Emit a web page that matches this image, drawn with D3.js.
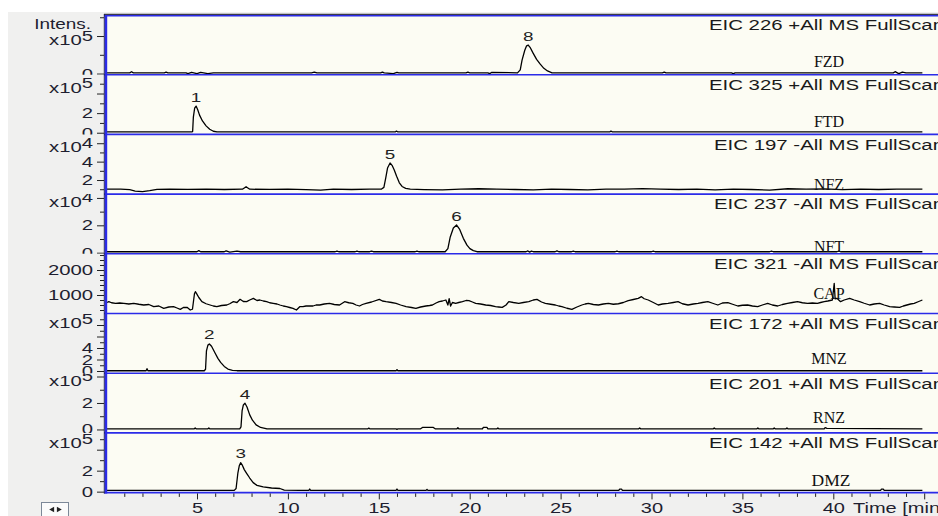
<!DOCTYPE html>
<html>
<head>
<meta charset="utf-8">
<script src="https://cdn.jsdelivr.net/npm/d3@7"></script>
<style>
  html, body { margin: 0; padding: 0; background: #ffffff; }
  svg { display: block; }
</style>
</head>
<body>
<svg id="chart" width="938" height="516"></svg>
<script>
// ---------------- data ----------------
const titles = [
  "EIC 226 +All MS FullScan", "EIC 325 +All MS FullScan", "EIC 197 -All MS FullScan",
  "EIC 237 -All MS FullScan", "EIC 321 -All MS FullScan", "EIC 172 +All MS FullScan",
  "EIC 201 +All MS FullScan", "EIC 142 +All MS FullScan"
];
const compounds = ["FZD", "FTD", "NFZ", "NFT", "CAP", "MNZ", "RNZ", "DMZ"];
const peakIds = ["8", "1", "5", "6", "", "2", "4", "3"];
const exponents = ["5", "5", "4", "4", null, "5", "5", "5"];

// intensity range shown in each trace (in units of 10^exponent, CAP in counts)
const yDomains = [[-0.03, 1.56], [-0.17, 5.92], [0.47, 6.96], [-0.08, 4.28],
                  [260, 2648], [-0.38, 10.0], [-0.26, 4.25], [-0.09, 5.6]];
const majorTicks = [[0, 1], [0, 2, 4], [0, 2, 4, 6], [0, 2, 4], [1000, 2000],
                    [0, 2, 4, 6, 8], [0, 2, 4], [0, 2, 4]];
const minorTicks = [[0.5, 1.5], [1, 3, 5], [1, 3, 5], [1, 3],
                    [400, 600, 800, 1200, 1400, 1600, 1800, 2200, 2400, 2600],
                    [1, 3, 5, 7, 9], [1, 3], [1, 3, 5]];
const tickLabels = [[0], [0, 2], [2, 4], [0, 2], [1000, 2000], [0, 2, 4], [0, 2], [0, 2]];
const exponentAt = [1, 5, 6, 4, null, 9, 4, 5];

const timeMajor = [5, 10, 15, 20, 25, 30, 35, 40, 45];
const timeLabels = [5, 10, 15, 20, 25, 30, 35, 40];
const timeMinor = d3.range(1, 46).filter(t => t % 5 !== 0);

// extracted ion chromatograms: [time (min), intensity]
const fzd = [[0,0.02],[1.3,0.02],[1.4,0.05],[1.5,0.02],[3.2,0.02],[3.3,0.04],[3.4,0.02],[4.4,0.02],
  [4.5,0.0],[4.7,0.03],[5.0,0.0],[5.2,0.03],[5.6,0.0],[5.9,0.02],[11.3,0.02],[11.45,0.04],[11.6,0.02],
  [15.1,0.02],[15.2,0.04],[15.3,0.02],[15.8,0.0],[16.0,0.03],[16.1,0.02],[19.8,0.02],[19.9,0.04],
  [20.0,0.02],[21.0,0.02],[21.1,0.0],[21.2,0.03],[22.63,0.02],[22.78,0.1],[22.88,0.36],[23.03,0.62],
  [23.13,0.74],[23.22,0.76],[23.32,0.7],[23.48,0.55],[23.68,0.38],[23.88,0.25],[24.08,0.14],
  [24.28,0.07],[24.53,0.02],[30.6,0.02],[30.7,0.04],[30.8,0.02],[34.4,0.02],[34.5,0.0],[34.6,0.02],
  [43.3,0.02],[43.4,0.05],[43.6,0.0],[43.8,0.04],[44.0,0.02],[44.9,0.02]];

const ftd = [[0,0.08],[4.7,0.08],[4.76,0.12],[4.8,1.6],[4.87,2.5],[4.95,2.72],[5.04,2.35],[5.14,1.8],
  [5.3,1.2],[5.5,0.7],[5.7,0.35],[5.9,0.15],[6.1,0.08],[15.9,0.08],[15.97,0.17],[16.05,0.08],
  [27.7,0.08],[27.77,0.17],[27.85,0.08],[44.9,0.08]];

const nfz = [[0,1.02],[0.8,1.0],[1.3,0.95],[1.6,0.8],[2.0,0.75],[2.4,0.85],[2.8,0.98],[3.5,1.0],
  [4.5,0.98],[5.5,1.02],[6.5,0.97],[7.5,1.0],[7.7,1.27],[7.9,1.0],[9,0.98],[10,1.02],[11,0.95],
  [11.8,0.9],[12.5,1.0],[13.5,0.97],[14.5,1.02],[15.13,1.0],[15.28,1.2],[15.38,2.2],[15.48,3.3],
  [15.62,3.85],[15.73,3.6],[15.85,3.1],[15.98,2.4],[16.13,1.7],[16.28,1.3],[16.48,1.1],[16.73,1.0],
  [17.5,0.95],[18.5,0.92],[19.5,1.0],[20.5,1.05],[21.5,1.0],[22.5,0.97],[23.5,0.94],[24.5,1.0],
  [25.5,0.97],[26.5,0.94],[27.5,1.0],[28.5,1.02],[29.5,1.06],[30.5,1.0],[31.5,0.97],[32.5,1.02],
  [33.5,0.94],[34.5,1.0],[35.5,0.97],[36.5,0.9],[37.5,1.05],[38.5,1.0],[39.5,1.03],[40.5,0.95],
  [41.5,1.0],[42.5,0.97],[43.5,1.02],[44.9,1.0]];

const nft = [[0,0.07],[5.0,0.07],[5.1,0.15],[5.2,0.07],[6.5,0.07],[6.6,0.13],[6.8,0.04],[7.2,0.12],
  [7.4,0.07],[12.6,0.07],[12.7,0.12],[12.8,0.07],[13.7,0.07],[13.8,0.12],[13.9,0.07],[14.5,0.07],
  [14.6,0.11],[14.7,0.07],[17.0,0.07],[17.1,0.12],[17.2,0.07],[18.65,0.07],[18.8,0.3],[18.93,1.15],
  [19.1,1.8],[19.28,2.02],[19.45,1.7],[19.65,1.05],[19.85,0.55],[20.01,0.3],[20.2,0.15],[20.4,0.07],
  [23.1,0.07],[23.2,0.13],[23.3,0.04],[23.4,0.12],[23.5,0.07],[24.7,0.07],[24.8,0.13],[24.9,0.07],
  [25.6,0.07],[25.7,0.12],[25.8,0.07],[28.0,0.07],[28.1,0.12],[28.2,0.07],[30.0,0.07],[30.1,0.12],
  [30.2,0.07],[36.5,0.07],[36.6,0.12],[36.7,0.07],[40.2,0.07],[40.3,0.12],[40.4,0.07],[44.9,0.07]];

const cap = [[0.05,700],[0.15,733],[0.3,690],[0.52,667],[0.75,680],[0.98,667],[1.25,640],[1.52,667],
  [1.8,630],[2.07,600],[2.35,620],[2.62,533],[2.9,560],[3.17,467],[3.45,520],[3.71,533],[3.9,480],
  [4.08,427],[4.25,500],[4.45,507],[4.63,400],[4.75,430],[4.86,1050],[4.91,1133],[4.97,1067],
  [5.1,900],[5.27,733],[5.5,650],[5.72,600],[5.9,560],[6.09,533],[6.35,580],[6.64,600],[6.8,650],
  [7.0,733],[7.2,700],[7.37,827],[7.55,740],[7.73,733],[7.9,800],[8.1,867],[8.3,780],[8.46,800],
  [8.65,760],[8.83,733],[9.0,690],[9.19,667],[9.4,640],[9.56,600],[9.75,560],[9.92,533],[10.1,500],
  [10.28,467],[10.47,400],[10.65,533],[10.83,533],[11.0,560],[11.2,560],[11.38,560],[11.55,600],
  [11.75,600],[12.0,640],[12.29,667],[12.55,620],[12.84,600],[13.12,733],[13.35,690],[13.57,667],
  [13.75,600],[13.94,560],[14.1,620],[14.3,667],[14.6,720],[15.03,827],[15.2,760],[15.4,733],
  [15.7,700],[15.95,667],[16.2,600],[16.5,533],[16.8,500],[17.04,467],[17.3,520],[17.59,560],
  [17.8,580],[17.95,600],[18.15,680],[18.32,733],[18.5,760],[18.69,800],[18.8,600],[18.87,850],
  [18.95,560],[19.05,700],[19.23,667],[19.4,700],[19.6,733],[19.8,780],[19.96,773],[20.15,720],
  [20.33,667],[20.6,640],[20.88,600],[21.15,580],[21.42,533],[21.6,520],[21.79,507],[22.0,600],
  [22.15,733],[22.4,700],[22.7,667],[22.95,700],[23.25,733],[23.5,800],[23.7,827],[23.95,720],
  [24.16,667],[24.45,630],[24.71,600],[24.9,560],[25.07,533],[25.35,470],[25.62,427],[25.9,520],
  [26.17,600],[26.35,640],[26.53,667],[26.8,620],[27.08,600],[27.35,640],[27.63,667],[27.9,630],
  [28.18,650],[28.45,700],[28.72,773],[29.0,820],[29.27,867],[29.45,933],[29.6,850],[29.82,800],
  [30.1,700],[30.37,600],[30.6,640],[30.91,667],[31.2,700],[31.46,733],[31.7,650],[32.01,600],
  [32.3,640],[32.56,667],[32.8,700],[33.1,733],[33.4,660],[33.65,600],[33.9,680],[34.2,693],
  [34.5,620],[34.75,560],[35.0,590],[35.29,600],[35.55,560],[35.84,533],[36.1,600],[36.39,667],
  [36.65,600],[36.94,560],[37.2,620],[37.48,667],[37.75,700],[38.03,733],[38.3,690],[38.58,667],
  [38.85,680],[39.13,667],[39.3,700],[39.5,733],[39.7,760],[39.95,800],[40.05,1467],[40.1,850],
  [40.2,867],[40.4,733],[40.6,800],[40.9,867],[41.15,800],[41.45,733],[41.7,670],[42.0,600],
  [42.25,640],[42.55,667],[42.8,600],[43.1,533],[43.35,520],[43.65,507],[43.85,560],[44.05,600],
  [44.25,640],[44.45,667],[44.7,740],[44.9,800]];

const mnz = [[0,0.05],[2.2,0.05],[2.25,0.4],[2.3,0.05],[5.4,0.05],[5.47,0.3],[5.52,3.5],[5.6,4.5],
  [5.68,4.7],[5.8,4.3],[6.0,3.1],[6.15,2.2],[6.3,1.5],[6.5,0.8],[6.7,0.35],[6.95,0.12],[7.2,0.05],
  [15.95,0.05],[16.0,0.25],[16.05,0.05],[44.9,0.05]];

const rnz = [[0,0.05],[4.85,0.05],[4.9,0.12],[4.95,0.05],[5.6,0.05],[5.65,0.12],[5.7,0.05],
  [7.35,0.05],[7.42,0.2],[7.48,1.4],[7.55,1.85],[7.64,1.98],[7.75,1.7],[7.9,1.1],[8.05,0.7],
  [8.25,0.35],[8.5,0.15],[8.85,0.05],[14.4,0.05],[14.45,0.1],[14.5,0.05],[15.95,0.05],[16.0,0.0],
  [16.05,0.05],[17.3,0.05],[17.4,0.15],[18.0,0.15],[18.1,0.05],[19.3,0.05],[19.35,0.13],[19.4,0.05],
  [20.7,0.05],[20.75,0.15],[20.95,0.15],[21.0,0.05],[21.5,0.05],[21.55,0.12],[21.6,0.05],
  [29.3,0.05],[29.35,0.12],[29.4,0.05],[33.4,0.05],[33.45,0.12],[33.5,0.05],[35.8,0.05],
  [35.85,0.12],[35.9,0.05],[36.7,0.05],[36.75,0.12],[36.8,0.05],[37.4,0.05],[37.45,0.12],
  [37.5,0.05],[39.5,0.05],[39.55,0.14],[39.65,0.08],[44.9,0.05]];

const dmz = [[0,0.12],[7.05,0.12],[7.15,0.3],[7.25,1.8],[7.33,2.5],[7.4,2.76],[7.5,2.5],[7.6,2.1],
  [7.73,1.75],[7.9,1.3],[8.09,0.86],[8.3,0.6],[8.64,0.45],[9.1,0.35],[9.56,0.3],[9.8,0.15],
  [10.6,0.12],[11.15,0.12],[11.2,0.25],[11.25,0.12],[15.95,0.12],[16.0,0.25],[16.05,0.12],
  [17.6,0.12],[17.65,0.22],[17.7,0.12],[28.2,0.12],[28.25,0.25],[28.35,0.25],[28.4,0.12],
  [42.6,0.12],[42.65,0.24],[42.75,0.24],[42.8,0.12],[44.9,0.12]];

const traces = [fzd, ftd, nfz, nft, cap, mnz, rnz, dmz];

// ---------------- layout ----------------
const W = 938, H = 516;
const plotTop = 15, panelH = 59.7, axisX = 104;
const blue = "#2b2be8", ink = "#1e1e30";
const sans = "'Liberation Sans', Arial, sans-serif";
const serif = "'Liberation Serif', 'Times New Roman', serif";
const stretch = 1.45;             // wide screen-font look of the instrument software
const nameBaseline = [-8, -7.4, -4, -1.5, -14.5, -9.5, -10, -6.6];
const nameSize = [16, 16, 16, 16, 16, 16, 16, 17.5];

const svg = d3.select("#chart");
const defs = svg.append("defs");

const x = d3.scaleLinear().domain([0, 46]).range([106.1, 106.1 + 46 * 18.18]);
const plotBottom = plotTop + panelH * traces.length;

// backgrounds
svg.append("rect").attr("x", 8).attr("y", 12).attr("width", W - 8).attr("height", H - 12)
  .attr("fill", "#f0f0ef");
svg.append("rect").attr("x", axisX).attr("y", plotTop).attr("width", W - axisX)
  .attr("height", plotBottom - plotTop).attr("fill", "#fcfcf3");

const line = d3.line();

traces.forEach((series, i) => {
  const T = plotTop + i * panelH, B = T + panelH;
  const y = d3.scaleLinear().domain(yDomains[i]).range([B, T]);
  const last = i === traces.length - 1;

  defs.append("clipPath").attr("id", `trace-clip-${i}`)
    .append("rect").attr("x", axisX + 2).attr("y", T).attr("width", W).attr("height", panelH);
  defs.append("clipPath").attr("id", `axis-clip-${i}`)
    .append("rect").attr("x", 0).attr("y", T).attr("width", axisX + 1)
    .attr("height", panelH + (last ? 8 : 0));

  // chromatogram trace
  svg.append("g").attr("clip-path", `url(#trace-clip-${i})`)
    .append("path")
    .attr("d", line.x(d => x(d[0])).y(d => y(d[1]))(series))
    .attr("fill", "none").attr("stroke", "#000").attr("stroke-width", 1.3)
    .attr("stroke-linejoin", "round");

  // intensity axis
  const axisG = svg.append("g").attr("clip-path", `url(#axis-clip-${i})`)
    .append("g").attr("transform", `translate(${axisX},0)`);
  const fmt = d3.format("d");
  axisG.append("g")
    .call(d3.axisLeft(y).tickValues(minorTicks[i]).tickSize(4).tickFormat(""))
    .call(g => g.select(".domain").remove());
  axisG.append("g")
    .call(d3.axisLeft(y).tickValues(majorTicks[i]).tickSize(7).tickPadding(4)
      .tickFormat(d => tickLabels[i].includes(d) ? fmt(d) : ""))
    .call(g => g.select(".domain").remove())
    .call(g => g.selectAll("text")
      .attr("x", -11 / stretch).attr("transform", `scale(${stretch},1)`)
      .attr("font-family", sans).attr("font-size", 14).attr("fill", ink));
  axisG.selectAll(".tick line").attr("stroke", "#222");

  if (exponents[i]) {
    const ex = axisG.append("text")
      .attr("transform", `translate(${-11},${y(exponentAt[i]) + 9}) scale(${stretch},1)`)
      .attr("text-anchor", "end").attr("font-family", sans).attr("font-size", 14)
      .attr("fill", ink);
    ex.append("tspan").text("x10");
    ex.append("tspan").attr("dy", -4.5).text(exponents[i]);
  }

  // trace title
  svg.append("text")
    .attr("transform", `translate(944,${T + 15.3}) scale(1.36,1)`)
    .attr("text-anchor", "end").attr("font-family", sans).attr("font-size", 15)
    .attr("fill", "#1a1a1a").text(titles[i]);

  // compound name
  svg.append("text")
    .attr("x", i === 7 ? 831 : 829).attr("y", B + nameBaseline[i])
    .attr("text-anchor", "middle").attr("font-family", serif)
    .attr("font-size", nameSize[i]).attr("fill", "#111").text(compounds[i]);

  // peak number above the apex
  if (peakIds[i]) {
    const apex = d3.greatest(series, d => d[1]);
    svg.append("text")
      .attr("transform", `translate(${x(apex[0])},${y(apex[1]) - 4.5}) scale(${stretch},1)`)
      .attr("text-anchor", "middle").attr("font-family", sans).attr("font-size", 13)
      .attr("fill", "#222").text(peakIds[i]);
  }

  // separator under the trace
  svg.append("line").attr("x1", axisX).attr("x2", W).attr("y1", B).attr("y2", B)
    .attr("stroke", blue).attr("stroke-width", 1.6);
});

// frame: top border and left axis line
svg.append("line").attr("x1", axisX).attr("x2", W).attr("y1", plotTop - 0.6).attr("y2", plotTop - 0.6)
  .attr("stroke", "#3a3a4a").attr("stroke-width", 1.2);
svg.append("line").attr("x1", axisX).attr("x2", W).attr("y1", plotTop + 0.7).attr("y2", plotTop + 0.7)
  .attr("stroke", blue).attr("stroke-width", 1.4);
svg.append("line").attr("x1", axisX + 0.3).attr("x2", axisX + 0.3).attr("y1", plotTop - 1).attr("y2", plotBottom + 1)
  .attr("stroke", "#20204a").attr("stroke-width", 1);
svg.append("line").attr("x1", axisX + 2).attr("x2", axisX + 2).attr("y1", plotTop).attr("y2", plotBottom + 1)
  .attr("stroke", blue).attr("stroke-width", 2.4);

// time axis
const xAxisG = svg.append("g").attr("transform", `translate(0,${plotBottom + 0.8})`);
xAxisG.append("g")
  .call(d3.axisBottom(x).tickValues(timeMinor).tickSize(3.5).tickFormat(""))
  .call(g => g.select(".domain").remove());
xAxisG.append("g")
  .call(d3.axisBottom(x).tickValues(timeMajor).tickSize(6)
    .tickFormat(d => timeLabels.includes(d) ? d3.format("d")(d) : ""))
  .call(g => g.select(".domain").remove())
  .call(g => g.selectAll("text")
    .attr("y", 20).attr("dy", null).attr("transform", `scale(1.43,1)`)
    .attr("font-family", sans).attr("font-size", 14).attr("fill", ink));
xAxisG.selectAll(".tick line").attr("stroke", "#222");
svg.append("text")
  .attr("transform", `translate(853,${plotBottom + 20.8}) scale(1.43,1)`)
  .attr("font-family", sans).attr("font-size", 14).attr("fill", ink).text("Time [min]");

// intensity caption
svg.append("text")
  .attr("transform", `translate(91,28.5) scale(1.35,1)`)
  .attr("text-anchor", "end").attr("font-family", sans).attr("font-size", 14)
  .attr("fill", ink).text("Intens.");

// scroll button in the corner
const btn = svg.append("g");
btn.append("rect").attr("x", 41.5).attr("y", 502.5).attr("width", 27).attr("height", 16)
  .attr("fill", "#fbfbfb").attr("stroke", "#7c8898").attr("stroke-width", 1);
btn.append("path").attr("d", d3.symbol(d3.symbolTriangle, 14)())
  .attr("transform", "translate(52.5,509.5) rotate(-90)").attr("fill", "#222");
btn.append("path").attr("d", d3.symbol(d3.symbolTriangle, 14)())
  .attr("transform", "translate(58.5,509.5) rotate(90)").attr("fill", "#222");
</script>
</body>
</html>
